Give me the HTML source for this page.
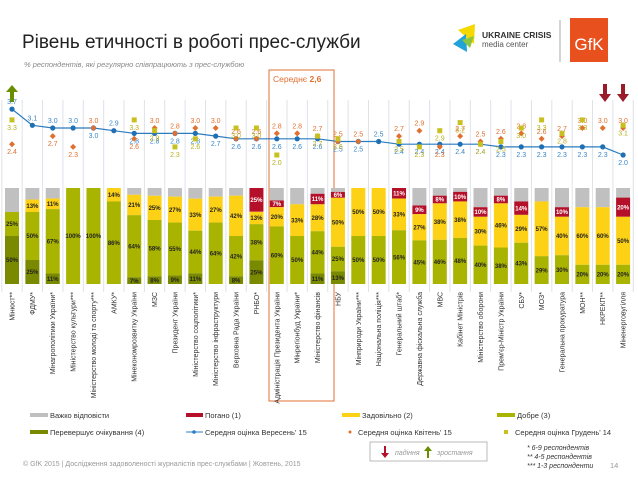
<!DOCTYPE html>
<html><head><meta charset="utf-8">
<style>
body{margin:0;background:#fff;font-family:"Liberation Sans",sans-serif;}
#wrap{position:relative;width:638px;height:479px;overflow:hidden;}
svg text{font-family:"Liberation Sans",sans-serif;}
</style></head>
<body>
<div id="wrap">
<svg id="chart" width="638" height="479" viewBox="0 0 638 479">
  <text x="22" y="48" font-size="19" fill="#222">Рівень етичності в роботі прес-служби</text>
  <text x="24" y="67" font-size="7.5" font-style="italic" fill="#888">% респондентів, які регулярно співпрацюють з прес-службою</text>
  <g>
    <polygon points="458,30 475,24 474,44" fill="#f5d800"/>
    <polygon points="453,44 466,34 467,52" fill="#1fa3d8"/>
    <polygon points="462,40 474,36 470,48" fill="#8cc63f"/>
    <text x="482" y="38" font-size="8.5" font-weight="bold" fill="#333">UKRAINE CRISIS</text>
    <text x="482" y="47" font-size="8" fill="#555">media center</text>
  </g>
  <line x1="560" y1="20" x2="560" y2="62" stroke="#aaa" stroke-width="1"/>
  <g>
    <rect x="570" y="18" width="38" height="44" fill="#e8501e"/>
    <text x="589" y="50" font-size="17" fill="#fff" text-anchor="middle">GfK</text>
  </g>
  <rect x="269" y="70" width="65" height="331" fill="none" stroke="#e07030" stroke-width="1"/>
  <text x="273" y="82" font-size="8.5" fill="#e07030">Середнє <tspan font-weight="bold">2,6</tspan></text>
  <g id="grid"></g><g id="bars"></g><g id="lines"></g><g id="labels"></g>
  <g font-size="7.5" fill="#333">
    <rect x="30" y="413" width="18" height="4" fill="#c0c0c0"/><text x="50" y="418">Важко відповісти</text>
    <rect x="186" y="413" width="17" height="4" fill="#b5102a"/><text x="205" y="418">Погано (1)</text>
    <rect x="342" y="413" width="18" height="4" fill="#fcd116"/><text x="362" y="418">Задовільно (2)</text>
    <rect x="497" y="413" width="18" height="4" fill="#a8b400"/><text x="517" y="418">Добре (3)</text>
    <rect x="30" y="430" width="18" height="4" fill="#7a8a00"/><text x="50" y="435">Перевершує очікування (4)</text>
    <line x1="186" y1="432" x2="203" y2="432" stroke="#2b7bbf"/><circle cx="194" cy="432" r="1.8" fill="#2b7bbf"/><text x="205" y="435">Середня оцінка Вересень' 15</text>
    <circle cx="350" cy="432" r="1.5" fill="#e07030"/><text x="358" y="435">Середня оцінка Квітень' 15</text>
    <rect x="504" y="430" width="4" height="4" fill="#c8c020"/><text x="515" y="435">Середня оцінка  Грудень' 14</text>
  </g>
  <g>
    <rect x="370" y="442" width="117" height="19" fill="#fff" stroke="#aaa" stroke-width="0.8"/>
    <polygon points="384,446 384,453 381,453 385,458 389,453 386,453 386,446" fill="#b5102a"/>
    <text x="395" y="455" font-size="7" font-style="italic" fill="#999">падіння</text>
    <polygon points="427,458 427,451 424,451 428,446 432,451 429,451 429,458" fill="#6b8e00"/>
    <text x="437" y="455" font-size="7" font-style="italic" fill="#999">зростання</text>
  </g>
  <g font-size="7" font-style="italic" fill="#333">
    <text x="527" y="450">* 6-9 респондентів</text>
    <text x="527" y="459">** 4-5 респондентів</text>
    <text x="527" y="468">*** 1-3 респонденти</text>
  </g>
  <text x="610" y="468" font-size="7.5" fill="#999">14</text>
  <text x="23" y="466" font-size="7" fill="#999">© GfK 2015 | Дослідження задоволеності журналістів прес-службами | Жовтень, 2015</text>
  <g><polygon points="10,102 10,92 6,92 12,85 18,92 14,92 14,102" fill="#6b8e00"/></g>
  <g><polygon points="603,84 603,94 599,94 605,102 611,94 607,94 607,84" fill="#9b1b2a"/></g>
  <g><polygon points="621,84 621,94 617,94 623,102 629,94 625,94 625,84" fill="#9b1b2a"/></g>
</svg>
</div>
<script>
const categories=["Мінюст**","ФДМУ*","Мінагрополітики України*","Міністерство культури***","Міністерство молоді та спорту***","АМКУ*","Мінекономрозвитку України","МЗС","Президент України","Міністерство соцполітики*","Міністерство інфраструктури","Верховна Рада України","РНБО*","Адміністрація Президента України","Мінрегіонбуд України*","Міністерство фінансів","НБУ","Мінприроди України***","Національна поліція***","Генеральний штаб*","Державна фіскальна служба","МВС","Кабінет Міністрів","Міністерство оборони","Прем'єр-Міністр України","СБУ*","МОЗ*","Генеральна прокуратура","МОН**","НКРЕКП**","Міненерговугілля"];
const sep15=[3.7,3.1,3.0,3.0,3.0,2.9,2.8,2.8,2.8,2.8,2.7,2.6,2.6,2.6,2.6,2.6,2.5,2.5,2.5,2.4,2.4,2.4,2.4,2.4,2.3,2.3,2.3,2.3,2.3,2.3,2.0];
const apr15=[2.4,null,2.7,2.3,3.0,null,2.6,3.0,2.8,3.0,3.0,2.6,2.6,2.8,2.8,2.7,2.5,2.5,null,2.7,2.9,2.3,2.7,2.5,2.6,2.8,2.6,2.7,3.0,3.0,3.0];
const dec14=[3.3,null,null,null,null,null,3.3,2.9,2.3,2.6,null,3.0,3.0,2.0,null,2.7,2.6,null,null,2.5,2.3,2.9,3.2,2.4,2.5,3.0,3.3,2.8,3.3,null,3.1];
const hard=[25,12,11,0,0,0,7,8,9,11,9,8,0,13,17,6,4,0,0,0,18,8,4,20,8,14,14,20,20,20,10];
const bad=[0,0,0,0,0,0,0,0,0,0,0,0,25,7,0,11,6,0,0,11,9,8,10,10,8,14,0,10,0,0,20];
const fair=[0,13,11,0,0,14,21,25,27,33,27,42,13,20,33,28,50,50,50,33,27,38,38,30,46,29,57,40,60,60,50];
const good=[25,50,67,100,100,86,64,58,55,44,64,42,38,60,50,44,25,50,50,56,45,46,48,40,38,43,29,30,20,20,20];
const exceed=[50,25,11,0,0,0,7,8,9,11,0,8,25,0,0,11,13,0,0,0,0,0,0,0,0,0,0,0,0,0,0];

const NS="http://www.w3.org/2000/svg";
const X0=12,DX=20.37,BW=14,BTOP=188,BH=96;
const xs=i=>X0+i*DX;
const ys=v=>128+(3.0-v)*27;
function mk(tag,attrs,parent){const e=document.createElementNS(NS,tag);for(const k in attrs)e.setAttribute(k,attrs[k]);parent.appendChild(e);return e;}
const grid=document.getElementById('grid'),bars=document.getElementById('bars'),lines=document.getElementById('lines'),labels=document.getElementById('labels');
for(let i=0;i<=categories.length;i++){
  const gx=xs(i)-DX/2;
  const l=mk('line',{x1:gx,y1:100,x2:gx,y2:292,stroke:'#dde2ea','stroke-width':1},grid);
  
  
}
const segs=[[hard,'#c0c0c0','hard'],[bad,'#b5102a','bad'],[fair,'#fcd116','fair'],[good,'#a8b400','good'],[exceed,'#7a8a00','exceed']];
categories.forEach((c,i)=>{
  const tot=segs.reduce((s,a)=>s+a[0][i],0);
  let y=BTOP;
  const g=mk('g',{},bars);
  
  
  segs.forEach(([arr,col,nm])=>{
    const v=arr[i];if(!v)return;
    const h=v/tot*BH;
    const r=mk('rect',{x:xs(i)-BW/2,y:y,width:BW,height:h,fill:col},g);
    
    
    if(nm!=='hard'&&v>=6){
      const t=mk('text',{x:xs(i),y:y+h/2+2.2,'font-size':6,'font-weight':'bold','text-anchor':'middle',fill:nm==='bad'?'#fff':'#222'},g);
      t.textContent=v+'%';
      
      
    }
    y+=h;
  });
  const tl=mk('text',{x:0,y:0,'font-size':7,fill:'#333','text-anchor':'end',transform:`translate(${xs(i)+2.5},292) rotate(-90)`},labels);
  tl.textContent=c;
  
  
});
// blue line
const pts=sep15.map((v,i)=>xs(i)+','+ys(v)).join(' ');
const pl=mk('polyline',{points:pts,fill:'none',stroke:'#2b7bbf','stroke-width':1.2},lines);


const fmt=v=>v.toFixed(1);
sep15.forEach((v,i)=>{
  const p=mk('circle',{cx:xs(i),cy:ys(v),r:2.6,fill:'#1f6fb5'},lines);
  
  
  const above=(apr15[i]==null||apr15[i]<v)&&(dec14[i]==null||dec14[i]<v);
  const t=mk('text',{x:xs(i),y:above?ys(v)-5:ys(v)+10,'font-size':7,'text-anchor':'middle',fill:'#3a86c8'},lines);
  t.textContent=fmt(v);
  
  
});
apr15.forEach((v,i)=>{
  if(v==null)return;
  const cx=xs(i),cy=ys(v);
  const d=mk('path',{d:`M${cx},${cy-3}L${cx+3},${cy}L${cx},${cy+3}L${cx-3},${cy}Z`,fill:'#e07030'},lines);
  
  
  const up=v>=sep15[i];
  const t=mk('text',{x:cx,y:up?cy-5:cy+10,'font-size':7,'text-anchor':'middle',fill:'#e07030'},lines);
  t.textContent=fmt(v);
  
  
});
dec14.forEach((v,i)=>{
  if(v==null)return;
  const cx=xs(i),cy=ys(v);
  const s=mk('rect',{x:cx-2.5,y:cy-2.5,width:5,height:5,fill:'#c8c020'},lines);
  
  
  const up=v>=sep15[i];
  const t=mk('text',{x:cx,y:up?cy+10:cy+10,'font-size':7,'text-anchor':'middle',fill:'#b8b020'},lines);
  t.textContent=fmt(v);
  
  
});
</script>
</body></html>
